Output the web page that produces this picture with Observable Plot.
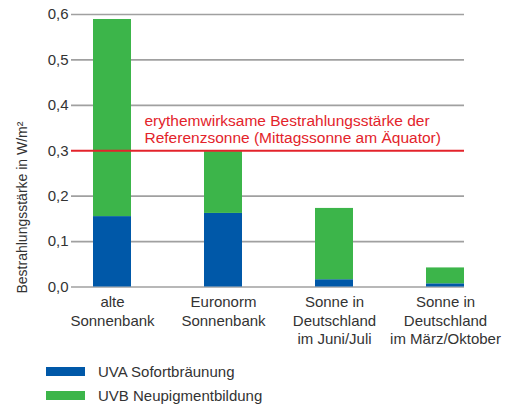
<!DOCTYPE html>
<html>
<head>
<meta charset="utf-8">
<script src="https://cdn.jsdelivr.net/npm/d3@7"></script>
<script src="https://cdn.jsdelivr.net/npm/@observablehq/plot@0.6"></script>
<style>
  html, body { margin: 0; padding: 0; background: #fff; }
  body { width: 517px; height: 407px; overflow: hidden; font-family: "Liberation Sans", Arial, sans-serif; }
  #legend { position: relative; height: 55px; color: #333; font-size: 15px; }
  .item { position: absolute; left: 46px; display: flex; align-items: center; }
  .sw { width: 39px; height: 9px; margin-right: 13px; }
</style>
</head>
<body>
<div id="chart"></div>
<div id="legend"></div>
<script>
const categories = ["alte\nSonnenbank", "Euronorm\nSonnenbank", "Sonne in\nDeutschland\nim Juni/Juli", "Sonne in\nDeutschland\nim März/Oktober"];
const seriesNames = ["UVA Sofortbräunung", "UVB Neupigmentbildung"];
const uva = [0.155, 0.162, 0.016, 0.007];
const uvb = [0.434, 0.136, 0.157, 0.035];
const yTicks = [0, 0.1, 0.2, 0.3, 0.4, 0.5, 0.6];
const referenceValue = 0.3;
const referenceLabel = "erythemwirksame Bestrahlungsstärke der\nReferenzsonne (Mittagssonne am Äquator)";
const yLabel = "Bestrahlungsstärke in W/m²";
const colors = ["#0058a8", "#3cb54a"];

const rows = [];
categories.forEach((c, i) => {
  rows.push({cat: c, type: seriesNames[0], value: uva[i]});
  rows.push({cat: c, type: seriesNames[1], value: uvb[i]});
});

const chart = Plot.plot({
  width: 517,
  height: 352,
  marginTop: 14,
  marginBottom: 65.5,
  marginLeft: 71,
  marginRight: 53,
  style: {fontFamily: "Liberation Sans, Arial, sans-serif", fontSize: "15px", color: "#333", background: "#fff"},
  x: {domain: categories, paddingInner: 0.661, paddingOuter: 0.085, align: 1},
  y: {domain: [0, 0.6]},
  color: {domain: seriesNames, range: colors},
  marks: [
    Plot.ruleY(yTicks.filter(d => d !== referenceValue), {stroke: "#a0a0a0", strokeWidth: 1.6}),
    Plot.barY(rows, Plot.stackY({x: "cat", y: "value", fill: "type"})),
    Plot.ruleY([referenceValue], {stroke: "#e3232b", strokeWidth: 2.2}),
    Plot.text([referenceLabel], {frameAnchor: "left", y: () => referenceValue, dx: 73, dy: -8, textAnchor: "start", lineAnchor: "bottom", lineHeight: 1.1, fill: "#e3232b", fontSize: 15.5}),
    Plot.axisY({ticks: yTicks, tickSize: 0, tickPadding: 3, tickFormat: d => d3.format(".1f")(d).replace(".", ","), label: null, fontSize: 15}),
    Plot.axisX({tickSize: 0, tickPadding: 7, label: null, lineHeight: 1.23, fontSize: 15}),
    Plot.text([yLabel], {frameAnchor: "bottom-left", rotate: -90, dx: -45, dy: 6.5, textAnchor: "start", fontSize: 14, fill: "#333"})
  ]
});
document.getElementById("chart").appendChild(chart);

const legend = document.getElementById("legend");
seriesNames.forEach((name, i) => {
  const item = document.createElement("div");
  item.className = "item";
  item.style.top = (i === 0 ? 11 : 35) + "px";
  const sw = document.createElement("div");
  sw.className = "sw";
  sw.style.background = colors[i];
  const t = document.createElement("span");
  t.textContent = name;
  item.appendChild(sw);
  item.appendChild(t);
  legend.appendChild(item);
});
</script>
</body>
</html>
